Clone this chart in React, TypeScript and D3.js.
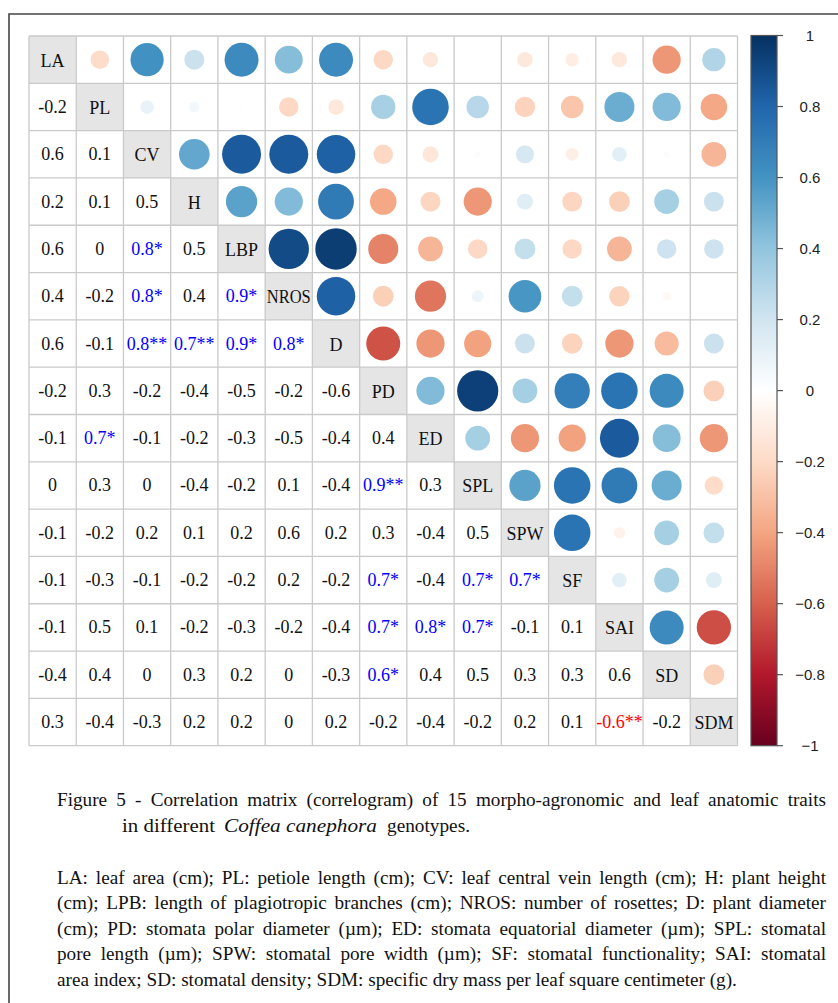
import React, { useLayoutEffect, useRef } from "react";
import * as d3 from "d3";

const traits = ["LA", "PL", "CV", "H", "LBP", "NROS", "D", "PD", "ED", "SPL", "SPW", "SF", "SAI", "SD", "SDM"];

// lower triangle labels (row i, columns 0..i-1)
const lowerLabels: string[][] = [
  [],
  ["-0.2"],
  ["0.6", "0.1"],
  ["0.2", "0.1", "0.5"],
  ["0.6", "0", "0.8*", "0.5"],
  ["0.4", "-0.2", "0.8*", "0.4", "0.9*"],
  ["0.6", "-0.1", "0.8**", "0.7**", "0.9*", "0.8*"],
  ["-0.2", "0.3", "-0.2", "-0.4", "-0.5", "-0.2", "-0.6"],
  ["-0.1", "0.7*", "-0.1", "-0.2", "-0.3", "-0.5", "-0.4", "0.4"],
  ["0", "0.3", "0", "-0.4", "-0.2", "0.1", "-0.4", "0.9**", "0.3"],
  ["-0.1", "-0.2", "0.2", "0.1", "0.2", "0.6", "0.2", "0.3", "-0.4", "0.5"],
  ["-0.1", "-0.3", "-0.1", "-0.2", "-0.2", "0.2", "-0.2", "0.7*", "-0.4", "0.7*", "0.7*"],
  ["-0.1", "0.5", "0.1", "-0.2", "-0.3", "-0.2", "-0.4", "0.7*", "0.8*", "0.7*", "-0.1", "0.1"],
  ["-0.4", "0.4", "0", "0.3", "0.2", "0", "-0.3", "0.6*", "0.4", "0.5", "0.3", "0.3", "0.6"],
  ["0.3", "-0.4", "-0.3", "0.2", "0.2", "0", "0.2", "-0.2", "-0.4", "-0.2", "0.2", "0.1", "-0.6**", "-0.2"],
];

// upper triangle circle values (row i, columns i+1..14)
const upperValues: number[][] = [
  [-0.19, 0.61, 0.22, 0.64, 0.43, 0.64, -0.21, -0.13, 0.01, -0.13, -0.1, -0.13, -0.44, 0.3],
  [0.1, 0.06, 0.01, -0.21, -0.13, 0.33, 0.74, 0.28, -0.23, -0.28, 0.5, 0.44, -0.39],
  [0.52, 0.84, 0.84, 0.82, -0.21, -0.14, 0.02, 0.18, -0.09, 0.12, 0.02, -0.34],
  [0.54, 0.44, 0.71, -0.39, -0.22, -0.44, 0.14, -0.22, -0.24, 0.34, 0.22],
  [0.9, 0.95, -0.5, -0.34, -0.21, 0.24, -0.21, -0.34, 0.21, 0.21],
  [0.82, -0.24, -0.54, 0.08, 0.59, 0.24, -0.23, -0.04, 0.01],
  [-0.64, -0.44, -0.41, 0.22, -0.23, -0.44, -0.32, 0.22],
  [0.44, 0.94, 0.34, 0.69, 0.74, 0.64, -0.24],
  [0.34, -0.44, -0.41, 0.84, 0.43, -0.44],
  [0.54, 0.74, 0.71, 0.5, -0.19],
  [0.74, -0.07, 0.34, 0.24],
  [0.12, 0.34, 0.14],
  [0.64, -0.65],
  [-0.24],
  [],
];

const colorbarTicks = [1, 0.8, 0.6, 0.4, 0.2, 0, -0.2, -0.4, -0.6, -0.8, -1];
const paletteStops = ["#67001F", "#B2182B", "#D6604D", "#F4A582", "#FDDBC7", "#FFFFFF", "#D1E5F0", "#92C5DE", "#4393C3", "#2166AC", "#053061"];

const captionLine1 = "Figure 5 - Correlation matrix (correlogram) of 15 morpho-agronomic and leaf anatomic traits";
const captionLine2 = ["in different", "Coffea canephora", "genotypes."];
const legendLines = [
  "LA: leaf area (cm); PL: petiole length (cm); CV: leaf central vein length (cm); H: plant height",
  "(cm); LPB: length of plagiotropic branches (cm); NROS: number of rosettes; D: plant diameter",
  "(cm); PD: stomata polar diameter (µm); ED: stomata equatorial diameter (µm); SPL: stomatal",
  "pore length (µm); SPW: stomatal pore width (µm); SF: stomatal functionality; SAI: stomatal",
  "area index; SD: stomatal density; SDM: specific dry mass per leaf square centimeter (g).",
];

const W = 838;
const H = 1003;
const gx0 = 29, gx1 = 737.5, gy0 = 36, gy1 = 745.7;
const serif = "'Liberation Serif', 'Times New Roman', serif";
const sans = "'Liberation Sans', Arial, sans-serif";

export default function App() {
  const n = traits.length;
  const x = d3.scaleLinear().domain([0, n]).range([gx0, gx1]);
  const y = d3.scaleLinear().domain([0, n]).range([gy0, gy1]);
  const cw = (gx1 - gx0) / n;
  const ch = (gy1 - gy0) / n;
  const rScale = d3.scaleSqrt().domain([0, 1]).range([0, 0.45 * Math.min(cw, ch)]);
  const color = d3
    .scaleLinear<string>()
    .domain(d3.range(paletteStops.length).map((i) => -1 + (2 * i) / (paletteStops.length - 1)))
    .range(paletteStops)
    .interpolate(d3.interpolateRgb);
  const cb = d3.scaleLinear().domain([-1, 1]).range([745.7, 35.5]);
  const cbX0 = 751, cbX1 = 777;

  const justifyRefs = useRef<(SVGTextElement | null)[]>([]);
  useLayoutEffect(() => {
    justifyRefs.current.forEach((el) => {
      if (!el) return;
      const target = Number(el.getAttribute("data-target"));
      el.setAttribute("word-spacing", "0");
      const natural = el.getComputedTextLength();
      const spaces = (el.textContent || "").split(" ").length - 1;
      if (spaces > 0) el.setAttribute("word-spacing", String((target - natural) / spaces));
    });
  }, []);

  const fmt = (v: number) => (v === 1 ? "1" : v === -1 ? "\u22121" : v === 0 ? "0" : (v < 0 ? "\u2212" : "") + Math.abs(v).toFixed(1));

  const cells: JSX.Element[] = [];
  for (let i = 0; i < n; i++) {
    for (let j = 0; j < n; j++) {
      const cx = x(j + 0.5);
      const cy = y(i + 0.5);
      if (i === j) {
        const name = traits[i];
        cells.push(
          <g key={`d${i}`}>
            <rect x={x(j)} y={y(i)} width={cw} height={ch} fill="#e5e5e5" />
            <text
              x={cx}
              y={cy + 1}
              textAnchor="middle"
              dominantBaseline="central"
              fontFamily={serif}
              fontSize={18}
              fill="#111"
              {...(name.length >= 4 ? { textLength: 44, lengthAdjust: "spacingAndGlyphs" } : {})}
            >
              {name}
            </text>
          </g>
        );
      } else if (j > i) {
        const v = upperValues[i][j - i - 1];
        cells.push(<circle key={`c${i}-${j}`} cx={cx} cy={cy} r={rScale(Math.abs(v))} fill={color(v)} />);
      } else {
        const lab = lowerLabels[i][j];
        const sig = lab.includes("*");
        const fill = sig ? (lab.startsWith("-") ? "#ff0000" : "#0000ff") : "#111";
        cells.push(
          <text
            key={`t${i}-${j}`}
            x={cx}
            y={cy}
            textAnchor="middle"
            dominantBaseline="central"
            fontFamily={serif}
            fontSize={18}
            fill={fill}
          >
            {lab}
          </text>
        );
      }
    }
  }

  return (
    <svg width={W} height={H} style={{ position: "absolute", left: 0, top: 0, background: "#fff" }}>
      <defs>
        <linearGradient id="cbgrad" x1="0" y1="1" x2="0" y2="0">
          {paletteStops.map((c, i) => (
            <stop key={i} offset={i / (paletteStops.length - 1)} stopColor={c} />
          ))}
        </linearGradient>
      </defs>
      <rect width={W} height={H} fill="#fff" />
      <path d={`M9,${H} L9,14 L${W},14`} fill="none" stroke="#444" strokeWidth={1.6} />

      {cells}

      <g stroke="#cacaca" strokeWidth={1.3}>
        {d3.range(n + 1).map((k) => (
          <line key={`v${k}`} x1={x(k)} x2={x(k)} y1={gy0} y2={gy1} />
        ))}
        {d3.range(n + 1).map((k) => (
          <line key={`h${k}`} x1={gx0} x2={gx1} y1={y(k)} y2={y(k)} />
        ))}
      </g>

      <rect x={cbX0} y={cb(1)} width={cbX1 - cbX0} height={cb(-1) - cb(1)} fill="url(#cbgrad)" stroke="#555" strokeWidth={1.2} />
      {colorbarTicks.map((t) => (
        <g key={`cb${t}`}>
          <line x1={cbX1} x2={cbX1 + 6} y1={cb(t)} y2={cb(t)} stroke="#555" strokeWidth={1.2} />
          <text x={810} y={cb(t)} textAnchor="middle" dominantBaseline="central" fontFamily={sans} fontSize={15} fill="#222">
            {fmt(t)}
          </text>
        </g>
      ))}

      <g fontFamily={serif} fontSize={19.2} fill="#111">
        <text
          ref={(el) => (justifyRefs.current[0] = el)}
          data-target={769}
          x={57}
          y={806}
        >
          {captionLine1}
        </text>
        <text x={122} y={832} textLength={93} lengthAdjust="spacingAndGlyphs">
          {captionLine2[0]}
        </text>
        <text x={224} y={832} fontStyle="italic" textLength={153} lengthAdjust="spacingAndGlyphs">
          {captionLine2[1]}
        </text>
        <text x={387} y={832} textLength={83} lengthAdjust="spacingAndGlyphs">
          {captionLine2[2]}
        </text>
        {legendLines.map((line, k) => (
          <text
            key={`l${k}`}
            ref={k < legendLines.length - 1 ? (el) => (justifyRefs.current[k + 1] = el) : undefined}
            data-target={769}
            x={57}
            y={884 + k * 25.4}
          >
            {line}
          </text>
        ))}
      </g>
    </svg>
  );
}
